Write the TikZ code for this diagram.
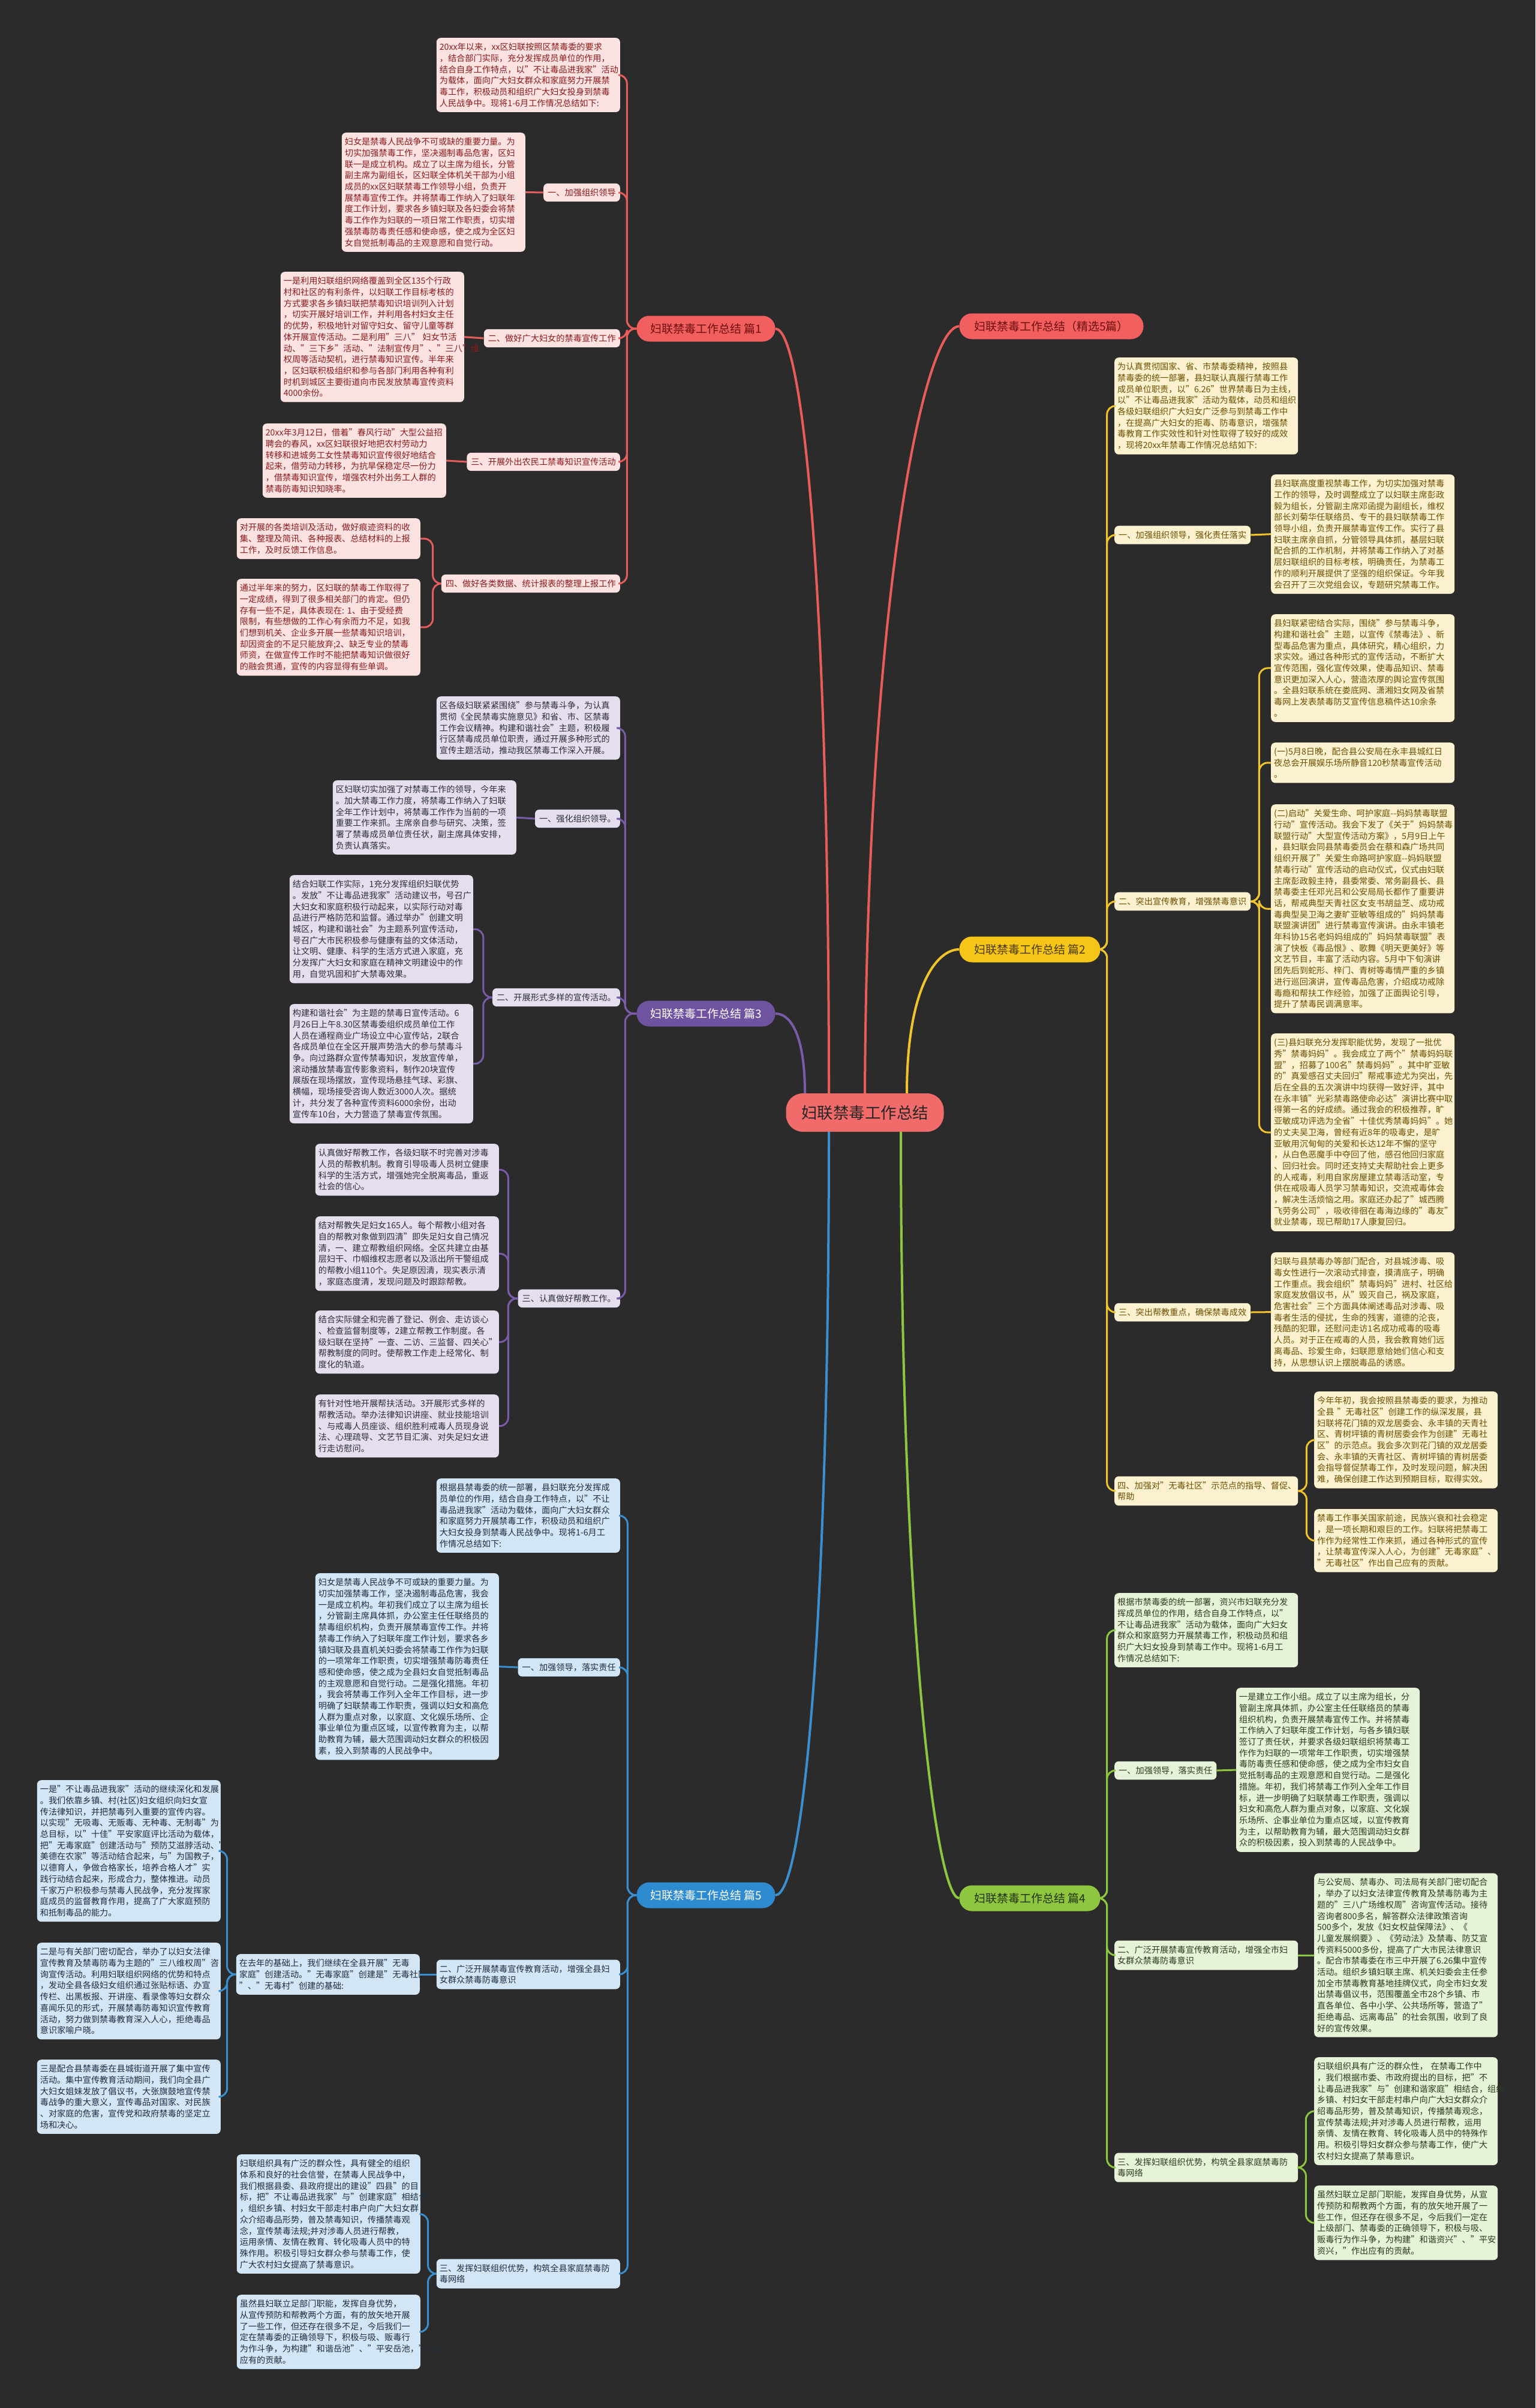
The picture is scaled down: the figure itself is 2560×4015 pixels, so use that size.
\documentclass[tikz,border=0pt]{standalone}
\usepackage{fontspec}
\setmainfont{Noto Sans CJK SC}
\definecolor{bgc}{HTML}{2B2B2B}
\definecolor{rline}{HTML}{E85C5C}
\definecolor{rfill}{HTML}{FDE2E2}
\definecolor{rtext}{HTML}{8B1B1B}
\definecolor{rbr}{HTML}{F25F5F}
\definecolor{rbrtext}{HTML}{6E0E0E}
\definecolor{vline}{HTML}{7A5BA8}
\definecolor{vfill}{HTML}{E4DEEF}
\definecolor{vtext}{HTML}{2F2D3A}
\definecolor{vbr}{HTML}{6F52A0}
\definecolor{bline}{HTML}{3A8FD0}
\definecolor{bfill}{HTML}{D3E6F5}
\definecolor{btext}{HTML}{1F2D3D}
\definecolor{bbr}{HTML}{2F8BD0}
\definecolor{yline}{HTML}{F0C42A}
\definecolor{yfill}{HTML}{FDF2CF}
\definecolor{ytext}{HTML}{6B4E00}
\definecolor{ybr}{HTML}{F5C518}
\definecolor{ybrtext}{HTML}{4A3A00}
\definecolor{gline}{HTML}{8DC63F}
\definecolor{gfill}{HTML}{E7F3D8}
\definecolor{gtext}{HTML}{2D3A1F}
\definecolor{gbr}{HTML}{8EC63F}
\definecolor{gbrtext}{HTML}{22320C}
\definecolor{rootc}{HTML}{F26B6B}
\tikzset{
  box/.style={rounded corners=7pt, inner xsep=7pt, inner ysep=8.5pt,
    font=\fontsize{14.2pt}{18.7pt}\selectfont, align=left,
    execute at begin node={\exhyphenpenalty=10000 \hyphenpenalty=10000 }},
  leaf/.style={box, inner xsep=5pt, text width=296pt},
  lab/.style={box},
  labtwo/.style={box, inner xsep=5pt, text width=296pt},
  branch/.style={rounded corners=21pt, minimum height=43pt, inner xsep=22pt,
    font=\fontsize{19pt}{22pt}\selectfont},
  pr/.style={fill=rfill, text=rtext},
  pv/.style={fill=vfill, text=vtext},
  pb/.style={fill=bfill, text=btext},
  py/.style={fill=yfill, text=ytext},
  pg/.style={fill=gfill, text=gtext},
  cr/.style={draw=rline, line width=3pt, rounded corners=14pt},
  cv/.style={draw=vline, line width=3pt, rounded corners=14pt},
  cb/.style={draw=bline, line width=3pt, rounded corners=14pt},
  cy/.style={draw=yline, line width=3pt, rounded corners=14pt},
  cg/.style={draw=gline, line width=3pt, rounded corners=14pt},
}
\begin{document}
\begin{tikzpicture}[x=1pt,y=-1pt]
\useasboundingbox (0,0) rectangle (2560,4015);
\fill[bgc] (0,0) rectangle (2560,4015);

% ---------- root and branches ----------
\node[rounded corners=28pt, fill=rootc, text=black!85, minimum width=263pt, minimum height=64pt,
  font=\fontsize{26.5pt}{30pt}\selectfont] (root) at (1442,1855) {妇联禁毒工作总结};
\node[branch, fill=rbr, text=rbrtext, minimum width=231pt] (b1) at (1177,548) {妇联禁毒工作总结 篇1};
\node[branch, fill=rbr, text=rbrtext, minimum width=307pt] (bs) at (1753,544) {妇联禁毒工作总结（精选5篇）};
\node[branch, fill=ybr, text=ybrtext, minimum width=235pt] (b2) at (1717,1583) {妇联禁毒工作总结 篇2};
\node[branch, fill=vbr, text=white, minimum width=231pt] (b3) at (1177,1690) {妇联禁毒工作总结 篇3};
\node[branch, fill=gbr, text=gbrtext, minimum width=235pt] (b4) at (1717,3165) {妇联禁毒工作总结 篇4};
\node[branch, fill=bbr, text=white, minimum width=231pt] (b5) at (1177,3160) {妇联禁毒工作总结 篇5};

\draw[rline, line width=4pt] ([xshift=-60pt]root.north) .. controls (1382,1000) and (1340,548) .. (b1.east);
\draw[rline, line width=4pt] (root.north) .. controls (1446,1000) and (1540,544) .. (bs.west);
\draw[yline, line width=4pt] ([xshift=70pt]root.north) .. controls (1512,1650) and (1560,1583) .. (b2.west);
\draw[vline, line width=4pt] ([xshift=-100pt]root.north) .. controls (1342,1730) and (1320,1690) .. (b3.east);
\draw[bline, line width=4pt] ([xshift=-60pt]root.south) .. controls (1382,2700) and (1340,3160) .. (b5.east);
\draw[gline, line width=4pt] ([xshift=60pt]root.south) .. controls (1502,2700) and (1560,3165) .. (b4.west);

% ---------- 篇1 ----------
\node[leaf, pr, anchor=north east] (n1i) at (1034,63) {20xx年以来，xx区妇联按照区禁毒委的要求\\，结合部门实际，充分发挥成员单位的作用，\\结合自身工作特点，以"不让毒品进我家"活动\\为载体，面向广大妇女群众和家庭努力开展禁\\毒工作，积极动员和组织广大妇女投身到禁毒\\人民战争中。现将1-6月工作情况总结如下:};
\node[lab, pr, anchor=east] (l1a) at (1034,321) {一、加强组织领导};
\node[leaf, pr, anchor=north east] (n1a) at (876,221) {妇女是禁毒人民战争不可或缺的重要力量。为\\切实加强禁毒工作，坚决遏制毒品危害，区妇\\联一是成立机构。成立了以主席为组长，分管\\副主席为副组长，区妇联全体机关干部为小组\\成员的xx区妇联禁毒工作领导小组，负责开\\展禁毒宣传工作。并将禁毒工作纳入了妇联年\\度工作计划，要求各乡镇妇联及各妇委会将禁\\毒工作作为妇联的一项日常工作职责，切实增\\强禁毒防毒责任感和使命感，使之成为全区妇\\女自觉抵制毒品的主观意愿和自觉行动。};
\node[lab, pr, anchor=east] (l1b) at (1034,564) {二、做好广大妇女的禁毒宣传工作};
\node[leaf, pr, anchor=north east] (n1b) at (774,453) {一是利用妇联组织网络覆盖到全区135个行政\\村和社区的有利条件，以妇联工作目标考核的\\方式要求各乡镇妇联把禁毒知识培训列入计划\\，切实开展好培训工作，并利用各村妇女主任\\的优势，积极地针对留守妇女、留守儿童等群\\体开展宣传活动。二是利用"三八"~妇女节活\\动、"三下乡"活动、"法制宣传月"、"三八"维\\权周等活动契机，进行禁毒知识宣传。半年来\\，区妇联积极组织和参与各部门利用各种有利\\时机到城区主要街道向市民发放禁毒宣传资料\\4000余份。};
\node[lab, pr, anchor=east] (l1c) at (1034,770) {三、开展外出农民工禁毒知识宣传活动};
\node[leaf, pr, anchor=north east] (n1c) at (744,706) {20xx年3月12日，借着"春风行动"大型公益招\\聘会的春风，xx区妇联很好地把农村劳动力\\转移和进城务工女性禁毒知识宣传很好地结合\\起来，借劳动力转移，为抗旱保稳定尽一份力\\，借禁毒知识宣传，增强农村外出务工人群的\\禁毒防毒知识知晓率。};
\node[lab, pr, anchor=east] (l1d) at (1034,973) {四、做好各类数据、统计报表的整理上报工作};
\node[leaf, pr, anchor=north east] (n1d) at (701,864) {对开展的各类培训及活动，做好痕迹资料的收\\集、整理及简讯、各种报表、总结材料的上报\\工作，及时反馈工作信息。};
\node[leaf, pr, anchor=north east] (n1e) at (701,965) {通过半年来的努力，区妇联的禁毒工作取得了\\一定成绩，得到了很多相关部门的肯定。但仍\\存有一些不足，具体表现在:~1、由于受经费\\限制，有些想做的工作心有余而力不足，如我\\们想到机关、企业多开展一些禁毒知识培训，\\却因资金的不足只能放弃;2、缺乏专业的禁毒\\师资，在做宣传工作时不能把禁毒知识做很好\\的融会贯通，宣传的内容显得有些单调。};

\draw[cr] (b1.west) -- ++(-16,0) |- (n1i.east);
\draw[cr] (b1.west) -- ++(-16,0) |- (l1a.east);
\draw[cr] (b1.west) -- ++(-16,0) |- (l1b.east);
\draw[cr] (b1.west) -- ++(-16,0) |- (l1c.east);
\draw[cr] (b1.west) -- ++(-16,0) |- (l1d.east);
\draw[cr] (l1a.west) -- (n1a.east);
\draw[cr] (l1b.west) -- (n1b.east);
\draw[cr] (l1c.west) -- (n1c.east);
\draw[cr] (l1d.west) -- ++(-14,0) |- (n1d.east);
\draw[cr] (l1d.west) -- ++(-14,0) |- (n1e.east);

% ---------- 篇3 ----------
\node[leaf, pv, anchor=north east] (n3i) at (1034,1161) {区各级妇联紧紧围绕"参与禁毒斗争，为认真\\贯彻《全民禁毒实施意见》和省、市、区禁毒\\工作会议精神。构建和谐社会"主题，积极履\\行区禁毒成员单位职责，通过开展多种形式的\\宣传主题活动，推动我区禁毒工作深入开展。};
\node[lab, pv, anchor=east] (l3a) at (1034,1365) {一、强化组织领导。};
\node[leaf, pv, anchor=north east] (n3a) at (861,1301) {区妇联切实加强了对禁毒工作的领导，今年来\\。加大禁毒工作力度，将禁毒工作纳入了妇联\\全年工作计划中，将禁毒工作作为当前的一项\\重要工作来抓。主席亲自参与研究、决策，签\\署了禁毒成员单位责任状，副主席具体安排，\\负责认真落实。};
\node[lab, pv, anchor=east] (l3b) at (1034,1663) {二、开展形式多样的宣传活动。};
\node[leaf, pv, anchor=north east] (n3b) at (789,1459) {结合妇联工作实际，1充分发挥组织妇联优势\\。发放"不让毒品进我家"活动建议书，号召广\\大妇女和家庭积极行动起来，以实际行动对毒\\品进行严格防范和监督。通过举办"创建文明\\城区，构建和谐社会"为主题系列宣传活动，\\号召广大市民积极参与健康有益的文体活动，\\让文明、健康、科学的生活方式进入家庭，充\\分发挥广大妇女和家庭在精神文明建设中的作\\用，自觉巩固和扩大禁毒效果。};
\node[leaf, pv, anchor=north east] (n3c) at (789,1674) {构建和谐社会"为主题的禁毒日宣传活动。6\\月26日上午8.30区禁毒委组织成员单位工作\\人员在通程商业广场设立中心宣传站，2联合\\各成员单位在全区开展声势浩大的参与禁毒斗\\争。向过路群众宣传禁毒知识，发放宣传单，\\滚动播放禁毒宣传影象资料，制作20块宣传\\展版在现场摆放，宣传现场悬挂气球、彩旗、\\横幅，现场接受咨询人数近3000人次。据统\\计，共分发了各种宣传资料6000余份，出动\\宣传车10台，大力营造了禁毒宣传氛围。};
\node[lab, pv, anchor=east] (l3c) at (1034,2165) {三、认真做好帮教工作。};
\node[leaf, pv, anchor=north east] (n3d) at (832,1907) {认真做好帮教工作，各级妇联不时完善对涉毒\\人员的帮教机制。教育引导吸毒人员树立健康\\科学的生活方式，增强她完全脱离毒品，重返\\社会的信心。};
\node[leaf, pv, anchor=north east] (n3e) at (832,2028) {结对帮教失足妇女165人。每个帮教小组对各\\自的帮教对象做到四清"即失足妇女自己情况\\清，一、建立帮教组织网络。全区共建立由基\\层妇干、巾帼维权志愿者以及派出所干警组成\\的帮教小组110个。失足原因清，现实表示清\\，家庭态度清，发现问题及时跟踪帮教。};
\node[leaf, pv, anchor=north east] (n3f) at (832,2185) {结合实际健全和完善了登记、例会、走访谈心\\、检查监督制度等，2建立帮教工作制度。各\\级妇联在坚持"一查、二访、三监督、四关心"\\帮教制度的同时。使帮教工作走上经常化、制\\度化的轨道。};
\node[leaf, pv, anchor=north east] (n3g) at (832,2325) {有针对性地开展帮扶活动。3开展形式多样的\\帮教活动。举办法律知识讲座、就业技能培训\\、与戒毒人员座谈、组织胜利戒毒人员现身说\\法、心理疏导、文艺节目汇演、对失足妇女进\\行走访慰问。};

\draw[cv] (b3.west) -- ++(-19,0) |- (n3i.east);
\draw[cv] (b3.west) -- ++(-19,0) |- (l3a.east);
\draw[cv] (b3.west) -- ++(-19,0) |- (l3b.east);
\draw[cv] (b3.west) -- ++(-19,0) |- (l3c.east);
\draw[cv] (l3a.west) -- (n3a.east);
\draw[cv] (l3b.west) -- ++(-15,0) |- (n3b.east);
\draw[cv] (l3b.west) -- ++(-15,0) |- (n3c.east);
\draw[cv] (l3c.west) -- ++(-16,0) |- (n3d.east);
\draw[cv] (l3c.west) -- ++(-16,0) |- (n3e.east);
\draw[cv] (l3c.west) -- ++(-16,0) |- (n3f.east);
\draw[cv] (l3c.west) -- ++(-16,0) |- (n3g.east);

% ---------- 篇5 ----------
\node[leaf, pb, anchor=north east] (n5i) at (1034,2465) {根据县禁毒委的统一部署，县妇联充分发挥成\\员单位的作用，结合自身工作特点，以"不让\\毒品进我家"活动为载体，面向广大妇女群众\\和家庭努力开展禁毒工作，积极动员和组织广\\大妇女投身到禁毒人民战争中。现将1-6月工\\作情况总结如下:};
\node[lab, pb, anchor=east] (l5a) at (1034,2780) {一、加强领导，落实责任};
\node[leaf, pb, anchor=north east] (n5a) at (832,2623) {妇女是禁毒人民战争不可或缺的重要力量。为\\切实加强禁毒工作，坚决遏制毒品危害，我会\\一是成立机构。年初我们成立了以主席为组长\\，分管副主席具体抓，办公室主任任联络员的\\禁毒组织机构，负责开展禁毒宣传工作。并将\\禁毒工作纳入了妇联年度工作计划，要求各乡\\镇妇联及县直机关妇委会将禁毒工作作为妇联\\的一项常年工作职责，切实增强禁毒防毒责任\\感和使命感，使之成为全县妇女自觉抵制毒品\\的主观意愿和自觉行动。二是强化措施。年初\\，我会将禁毒工作列入全年工作目标，进一步\\明确了妇联禁毒工作职责，强调以妇女和高危\\人群为重点对象，以家庭、文化娱乐场所、企\\事业单位为重点区域，以宣传教育为主，以帮\\助教育为辅，最大范围调动妇女群众的积极因\\素，投入到禁毒的人民战争中。};
\node[labtwo, pb, anchor=east] (l5b) at (1034,3292) {二、广泛开展禁毒宣传教育活动，增强全县妇\\女群众禁毒防毒意识};
\node[leaf, pb, anchor=east] (n5b) at (700,3292) {在去年的基础上，我们继续在全县开展"无毒\\家庭"创建活动。"无毒家庭"创建是"无毒社区\\"、"无毒村"创建的基础:};
\node[leaf, pb, anchor=north east] (n5c) at (368,2968) {一是"不让毒品进我家"活动的继续深化和发展\\。我们依靠乡镇、村(社区)妇女组织向妇女宣\\传法律知识，并把禁毒列入重要的宣传内容。\\以实现"无吸毒、无贩毒、无种毒、无制毒"为\\总目标，以"十佳"平安家庭评比活动为载体，\\把"无毒家庭"创建活动与"预防艾滋脖活动、"\\美德在农家"等活动结合起来，与"为国教子，\\以德育人，争做合格家长，培养合格人才"实\\践行动结合起来，形成合力，整体推进。动员\\千家万户积极参与禁毒人民战争，充分发挥家\\庭成员的监督教育作用，提高了广大家庭预防\\和抵制毒品的能力。};
\node[leaf, pb, anchor=north east] (n5d) at (368,3239) {二是与有关部门密切配合，举办了以妇女法律\\宣传教育及禁毒防毒为主题的"三八维权周"咨\\询宣传活动。利用妇联组织网络的优势和特点\\，发动全县各级妇女组织通过张贴标语、办宣\\传栏、出黑板报、开讲座、看录像等妇女群众\\喜闻乐见的形式，开展禁毒防毒知识宣传教育\\活动，努力做到禁毒教育深入人心，拒绝毒品\\意识家喻户晓。};
\node[leaf, pb, anchor=north east] (n5e) at (368,3434) {三是配合县禁毒委在县城街道开展了集中宣传\\活动。集中宣传教育活动期间，我们向全县广\\大妇女姐妹发放了倡议书，大张旗鼓地宣传禁\\毒战争的重大意义，宣传毒品对国家、对民族\\、对家庭的危害，宣传党和政府禁毒的坚定立\\场和决心。};
\node[labtwo, pb, anchor=east] (l5c) at (1034,3791) {三、发挥妇联组织优势，构筑全县家庭禁毒防\\毒网络};
\node[leaf, pb, anchor=north east] (n5f) at (701,3592) {妇联组织具有广泛的群众性，具有健全的组织\\体系和良好的社会信誉，在禁毒人民战争中，\\我们根据县委、县政府提出的建设"四县"的目\\标，把"不让毒品进我家"与"创建家庭"相结合\\，组织乡镇、村妇女干部走村串户向广大妇女群\\众介绍毒品形势，普及禁毒知识，传播禁毒观\\念，宣传禁毒法规;并对涉毒人员进行帮教，\\运用亲情、友情在教育、转化吸毒人员中的特\\殊作用。积极引导妇女群众参与禁毒工作，使\\广大农村妇女提高了禁毒意识。};
\node[leaf, pb, anchor=north east] (n5g) at (701,3826) {虽然县妇联立足部门职能，发挥自身优势，\\从宣传预防和帮教两个方面，有的放矢地开展\\了一些工作，但还存在很多不足，今后我们一\\定在禁毒委的正确领导下，积极与吸、贩毒行\\为作斗争，为构建"和谐岳池"、"平安岳池，"作出\\应有的贡献。};

\draw[cb] (b5.west) -- ++(-15,0) |- (n5i.east);
\draw[cb] (b5.west) -- ++(-15,0) |- (l5a.east);
\draw[cb] (b5.west) -- ++(-15,0) |- (l5b.east);
\draw[cb] (b5.west) -- ++(-15,0) |- (l5c.east);
\draw[cb] (l5a.west) -- (n5a.east);
\draw[cb] (l5b.west) -- (n5b.east);
\draw[cb] (n5b.west) -- ++(-15,0) |- (n5c.east);
\draw[cb] (n5b.west) -- ++(-15,0) |- (n5d.east);
\draw[cb] (n5b.west) -- ++(-15,0) |- (n5e.east);
\draw[cb] (l5c.west) -- ++(-14,0) |- (n5f.east);
\draw[cb] (l5c.west) -- ++(-14,0) |- (n5g.east);

% ---------- 篇2 ----------
\node[leaf, py, anchor=north west] (n2i) at (1858,596) {为认真贯彻国家、省、市禁毒委精神，按照县\\禁毒委的统一部署，县妇联认真履行禁毒工作\\成员单位职责，以"6.26"世界禁毒日为主线，\\以"不让毒品进我家"活动为载体，动员和组织\\各级妇联组织广大妇女广泛参与到禁毒工作中\\，在提高广大妇女的拒毒、防毒意识，增强禁\\毒教育工作实效性和针对性取得了较好的成效\\，现将20xx年禁毒工作情况总结如下:};
\node[lab, py, anchor=west] (l2a) at (1858,892) {一、加强组织领导，强化责任落实};
\node[leaf, py, anchor=north west] (n2a) at (2119,791) {县妇联高度重视禁毒工作，为切实加强对禁毒\\工作的领导，及时调整成立了以妇联主席彭政\\毅为组长，分管副主席邓函提为副组长，维权\\部长刘菊华任联络员、专干的县妇联禁毒工作\\领导小组，负责开展禁毒宣传工作。实行了县\\妇联主席亲自抓，分管领导具体抓，基层妇联\\配合抓的工作机制，并将禁毒工作纳入了对基\\层妇联组织的目标考核，明确责任，为禁毒工\\作的顺利开展提供了坚强的组织保证。今年我\\会召开了三次党组会议，专题研究禁毒工作。};
\node[lab, py, anchor=west] (l2b) at (1858,1503) {二、突出宣传教育，增强禁毒意识};
\node[leaf, py, anchor=north west] (n2b) at (2119,1024) {县妇联紧密结合实际，围绕"参与禁毒斗争，\\构建和谐社会"主题，以宣传《禁毒法》、新\\型毒品危害为重点，具体研究，精心组织，力\\求实效。通过各种形式的宣传活动，不断扩大\\宣传范围，强化宣传效果，使毒品知识、禁毒\\意识更加深入人心，营造浓厚的舆论宣传氛围\\。全县妇联系统在娄底网、潇湘妇女网及省禁\\毒网上发表禁毒防艾宣传信息稿件达10余条\\。};
\node[leaf, py, anchor=north west] (n2c) at (2119,1238) {(一)5月8日晚，配合县公安局在永丰县城红日\\夜总会开展娱乐场所静音120秒禁毒宣传活动\\。};
\node[leaf, py, anchor=north west] (n2d) at (2119,1341) {(二)启动"关爱生命、呵护家庭-{}-妈妈禁毒联盟\\行动"宣传活动。我会下发了《关于"妈妈禁毒\\联盟行动"大型宣传活动方案》，5月9日上午\\，县妇联会同县禁毒委员会在蔡和森广场共同\\组织开展了"关爱生命路呵护家庭-{}-妈妈联盟\\禁毒行动"宣传活动的启动仪式，仪式由妇联\\主席彭政毅主持，县委常委、常务副县长、县\\禁毒委主任邓光吕和公安局局长都作了重要讲\\话，帮戒典型天青社区女支书胡益芝、成功戒\\毒典型吴卫海之妻旷亚敏等组成的"妈妈禁毒\\联盟演讲团"进行禁毒宣传演讲。由永丰镇老\\年科协15名老妈妈组成的"妈妈禁毒联盟"表\\演了快板《毒品恨》、歌舞《明天更美好》等\\文艺节目，丰富了活动内容。5月中下旬演讲\\团先后到蛇形、梓门、青树等毒情严重的乡镇\\进行巡回演讲，宣传毒品危害，介绍成功戒除\\毒瘾和帮扶工作经验，加强了正面舆论引导，\\提升了禁毒民调满意率。};
\node[leaf, py, anchor=north west] (n2e) at (2119,1723) {(三)县妇联充分发挥职能优势，发现了一批优\\秀"禁毒妈妈"。我会成立了两个"禁毒妈妈联\\盟"，招募了100名"禁毒妈妈"。其中旷亚敏\\的"真爱感召丈夫回归"帮戒事迹尤为突出，先\\后在全县的五次演讲中均获得一致好评，其中\\在永丰镇"光彩禁毒路使命必达"演讲比赛中取\\得第一名的好成绩。通过我会的积极推荐，旷\\亚敏成功评选为全省"十佳优秀禁毒妈妈"。她\\的丈夫吴卫海，曾经有近8年的吸毒史，是旷\\亚敏用沉甸甸的关爱和长达12年不懈的坚守\\，从白色恶魔手中夺回了他，感召他回归家庭\\、回归社会。同时还支持丈夫帮助社会上更多\\的人戒毒，利用自家房屋建立禁毒活动室，专\\供在戒吸毒人员学习禁毒知识，交流戒毒体会\\，解决生活烦恼之用。家庭还办起了"城西腾\\飞劳务公司"，吸收徘徊在毒海边缘的"毒友"\\就业禁毒，现已帮助17人康复回归。};
\node[lab, py, anchor=west] (l2c) at (1858,2188) {三、突出帮教重点，确保禁毒成效};
\node[leaf, py, anchor=north west] (n2f) at (2119,2088) {妇联与县禁毒办等部门配合，对县城涉毒、吸\\毒女性进行一次滚动式排查，摸清底子，明确\\工作重点。我会组织"禁毒妈妈"进村、社区给\\家庭发放倡议书，从"毁灭自己，祸及家庭，\\危害社会"三个方面具体阐述毒品对涉毒、吸\\毒者生活的侵扰，生命的残害，道德的沦丧，\\残酷的犯罪，还慰问走访1名成功戒毒的吸毒\\人员。对于正在戒毒的人员，我会教育她们远\\离毒品、珍爱生命，妇联愿意给她们信心和支\\持，从思想认识上摆脱毒品的诱惑。};
\node[labtwo, py, anchor=west] (l2d) at (1858,2486) {四、加强对"无毒社区"示范点的指导、督促、\\帮助};
\node[leaf, py, anchor=north west] (n2g) at (2191,2320) {今年年初，我会按照县禁毒委的要求，为推动\\全县~"无毒社区"创建工作的纵深发展，县\\妇联将花门镇的双龙居委会、永丰镇的天青社\\区、青树坪镇的青树居委会作为创建"无毒社\\区"的示范点。我会多次到花门镇的双龙居委\\会、永丰镇的天青社区、青树坪镇的青树居委\\会指导督促禁毒工作，及时发现问题，解决困\\难，确保创建工作达到预期目标，取得实效。};
\node[leaf, py, anchor=north west] (n2h) at (2191,2516) {禁毒工作事关国家前途，民族兴衰和社会稳定\\，是一项长期和艰巨的工作。妇联将把禁毒工\\作作为经常性工作来抓，通过各种形式的宣传\\，让禁毒宣传深入人心，为创建"无毒家庭"、\\"无毒社区"作出自己应有的贡献。};

\draw[cy] (b2.east) -- ++(11,0) |- (n2i.west);
\draw[cy] (b2.east) -- ++(11,0) |- (l2a.west);
\draw[cy] (b2.east) -- ++(11,0) |- (l2b.west);
\draw[cy] (b2.east) -- ++(11,0) |- (l2c.west);
\draw[cy] (b2.east) -- ++(11,0) |- (l2d.west);
\draw[cy] (l2a.east) -- (n2a.west);
\draw[cy] (l2b.east) -- ++(14,0) |- (n2b.west);
\draw[cy] (l2b.east) -- ++(14,0) |- (n2c.west);
\draw[cy] (l2b.east) -- ++(14,0) |- (n2d.west);
\draw[cy] (l2b.east) -- ++(14,0) |- (n2e.west);
\draw[cy] (l2c.east) -- (n2f.west);
\draw[cy] (l2d.east) -- ++(14,0) |- (n2g.west);
\draw[cy] (l2d.east) -- ++(14,0) |- (n2h.west);

% ---------- 篇4 ----------
\node[leaf, pg, anchor=north west] (n4i) at (1858,2656) {根据市禁毒委的统一部署，资兴市妇联充分发\\挥成员单位的作用，结合自身工作特点，以"\\不让毒品进我家"活动为载体，面向广大妇女\\群众和家庭努力开展禁毒工作，积极动员和组\\织广大妇女投身到禁毒工作中。现将1-6月工\\作情况总结如下:};
\node[lab, pg, anchor=west] (l4a) at (1858,2952) {一、加强领导，落实责任};
\node[leaf, pg, anchor=north west] (n4a) at (2061,2814) {一是建立工作小组。成立了以主席为组长，分\\管副主席具体抓，办公室主任任联络员的禁毒\\组织机构，负责开展禁毒宣传工作。并将禁毒\\工作纳入了妇联年度工作计划，与各乡镇妇联\\签订了责任状，并要求各级妇联组织将禁毒工\\作作为妇联的一项常年工作职责，切实增强禁\\毒防毒责任感和使命感，使之成为全市妇女自\\觉抵制毒品的主观意愿和自觉行动。二是强化\\措施。年初，我们将禁毒工作列入全年工作目\\标，进一步明确了妇联禁毒工作职责，强调以\\妇女和高危人群为重点对象，以家庭、文化娱\\乐场所、企事业单位为重点区域，以宣传教育\\为主，以帮助教育为辅，最大范围调动妇女群\\众的积极因素，投入到禁毒的人民战争中。};
\node[labtwo, pg, anchor=west] (l4b) at (1858,3260) {二、广泛开展禁毒宣传教育活动，增强全市妇\\女群众禁毒防毒意识};
\node[leaf, pg, anchor=west] (n4b) at (2191,3260) {与公安局、禁毒办、司法局有关部门密切配合\\，举办了以妇女法律宣传教育及禁毒防毒为主\\题的"三八广场维权周"咨询宣传活动。接待\\咨询者800多名，解答群众法律政策咨询\\500多个，发放《妇女权益保障法》、《\\儿童发展纲要》、《劳动法》及禁毒、防艾宣\\传资料5000多份，提高了广大市民法律意识\\。配合市禁毒委在市三中开展了6.26集中宣传\\活动。组织乡镇妇联主席、机关妇委会主任参\\加全市禁毒教育基地挂牌仪式，向全市妇女发\\出禁毒倡议书，范围覆盖全市28个乡镇、市\\直各单位、各中小学、公共场所等，营造了"\\拒绝毒品、远离毒品"的社会氛围，收到了良\\好的宣传效果。};
\node[labtwo, pg, anchor=west] (l4c) at (1858,3614) {三、发挥妇联组织优势，构筑全县家庭禁毒防\\毒网络};
\node[leaf, pg, anchor=north west] (n4c) at (2191,3430) {妇联组织具有广泛的群众性，~在禁毒工作中\\，我们根据市委、市政府提出的目标，把"不\\让毒品进我家"与"创建和谐家庭"相结合，组织\\乡镇、村妇女干部走村串户向广大妇女群众介\\绍毒品形势，普及禁毒知识，传播禁毒观念，\\宣传禁毒法规;并对涉毒人员进行帮教，运用\\亲情、友情在教育、转化吸毒人员中的特殊作\\用。积极引导妇女群众参与禁毒工作，使广大\\农村妇女提高了禁毒意识。};
\node[leaf, pg, anchor=north west] (n4d) at (2191,3644) {虽然妇联立足部门职能，发挥自身优势，从宣\\传预防和帮教两个方面，有的放矢地开展了一\\些工作，但还存在很多不足，今后我们一定在\\上级部门、禁毒委的正确领导下，积极与吸、\\贩毒行为作斗争，为构建"和谐资兴"、"平安\\资兴，"作出应有的贡献。};

\draw[cg] (b4.east) -- ++(11,0) |- (n4i.west);
\draw[cg] (b4.east) -- ++(11,0) |- (l4a.west);
\draw[cg] (b4.east) -- ++(11,0) |- (l4b.west);
\draw[cg] (b4.east) -- ++(11,0) |- (l4c.west);
\draw[cg] (l4a.east) -- (n4a.west);
\draw[cg] (l4b.east) -- (n4b.west);
\draw[cg] (l4c.east) -- ++(13,0) |- (n4c.west);
\draw[cg] (l4c.east) -- ++(13,0) |- (n4d.west);
\end{tikzpicture}
\end{document}
